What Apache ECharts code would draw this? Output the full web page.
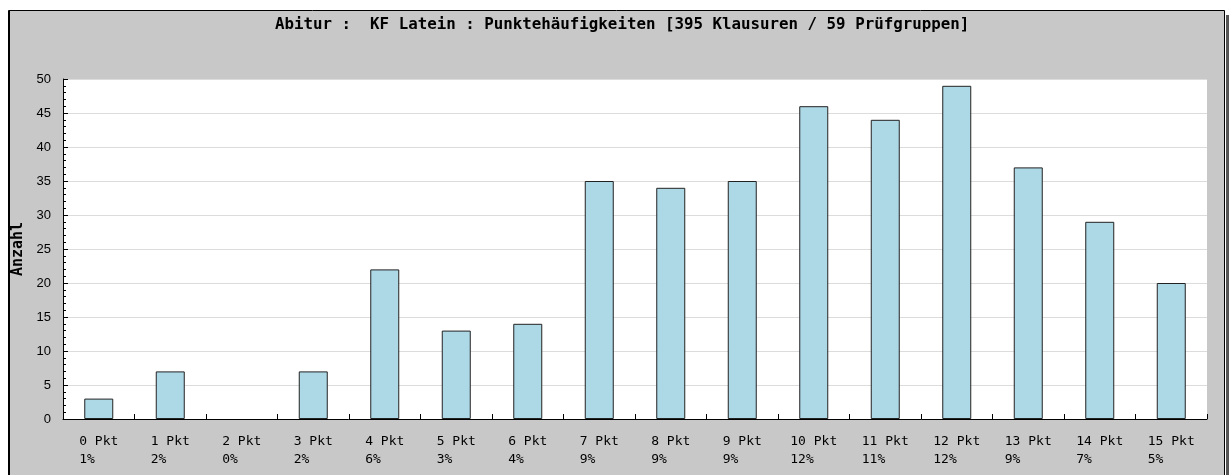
<!DOCTYPE html>
<html>
<head>
<meta charset="utf-8">
<script src="https://cdn.jsdelivr.net/npm/echarts@6/dist/echarts.min.js"></script>
<style>
    html, body { margin: 0; padding: 0; background: #fff; }
    #chart { width: 1229px; height: 475px; }
</style>
</head>
<body>
<div id="chart"></div>
<script>
    // data
    var punkte = ['0 Pkt', '1 Pkt', '2 Pkt', '3 Pkt', '4 Pkt', '5 Pkt', '6 Pkt', '7 Pkt',
        '8 Pkt', '9 Pkt', '10 Pkt', '11 Pkt', '12 Pkt', '13 Pkt', '14 Pkt', '15 Pkt'];
    var prozent = ['1%', '2%', '0%', '2%', '6%', '3%', '4%', '9%', '9%', '9%', '12%', '11%', '12%', '9%', '7%', '5%'];
    var anzahl = [3, 7, 0, 7, 22, 13, 14, 35, 34, 35, 46, 44, 49, 37, 29, 20];
    var titel = 'Abitur :  KF Latein : Punktehäufigkeiten [395 Klausuren / 59 Prüfgruppen]';

    var chart = echarts.init(document.getElementById('chart'));
    var mono = '"DejaVu Sans Mono", "Liberation Mono", monospace';

    // empty bars get no outline
    var barData = anzahl.map(function (v) {
        return v === 0 ? {value: v, itemStyle: {borderWidth: 0}} : v;
    });

    var option = {
        backgroundColor: '#fff',
        animation: false,
        graphic: [
            // shadow on the right of the panel
            {type: 'rect', z: -20, shape: {x: 1226, y: 15, width: 3, height: 470}, style: {fill: '#555'}},
            // grey panel
            {type: 'rect', z: -10, shape: {x: 8.5, y: 10.5, width: 1216, height: 470},
                style: {fill: '#c8c8c8', stroke: '#000', lineWidth: 1}},
            {type: 'line', z: -9, shape: {x1: 9.5, y1: 10, x2: 9.5, y2: 475}, style: {stroke: '#000', lineWidth: 1}}
        ],
        title: {
            text: titel,
            left: 270,
            top: 12,
            textStyle: {fontFamily: mono, fontWeight: 'bold', fontSize: 15.8, color: '#000'}
        },
        grid: {
            left: 63, right: 22, top: 79, bottom: 56,
            show: true, backgroundColor: '#fff', borderWidth: 0
        },
        xAxis: {
            type: 'category',
            data: punkte,
            axisLine: {lineStyle: {color: '#000', width: 1}},
            axisTick: {show: true, inside: true, length: 5, alignWithLabel: false, lineStyle: {color: '#000'}},
            axisLabel: {
                margin: 14,
                interval: 0,
                formatter: function (value, i) {
                    return '{a|' + value + '}\n{a|' + prozent[i] + '}';
                },
                rich: {
                    a: {fontFamily: mono, fontSize: 13, color: '#000', align: 'left', lineHeight: 18}
                }
            }
        },
        yAxis: {
            type: 'value',
            min: 0,
            max: 50,
            interval: 5,
            name: 'Anzahl',
            nameLocation: 'middle',
            nameGap: 31,
            nameTextStyle: {fontFamily: mono, fontWeight: 'bold', fontSize: 15, color: '#000'},
            axisLine: {show: true, lineStyle: {color: '#000', width: 1}},
            axisTick: {show: true, inside: true, length: 5, lineStyle: {color: '#000'}},
            minorTick: {show: true, splitNumber: 5, length: 3, lineStyle: {color: '#000'}},
            axisLabel: {margin: 12, fontFamily: 'Liberation Sans, Arial, sans-serif', fontSize: 13, color: '#000'},
            splitLine: {show: true, lineStyle: {color: '#dcdcdc', width: 1}}
        },
        series: [
            {
                type: 'bar',
                data: barData,
                barWidth: 29,
                itemStyle: {color: '#add8e6', borderColor: '#222', borderWidth: 1}
            }
        ]
    };

    chart.setOption(option);
</script>
</body>
</html>
